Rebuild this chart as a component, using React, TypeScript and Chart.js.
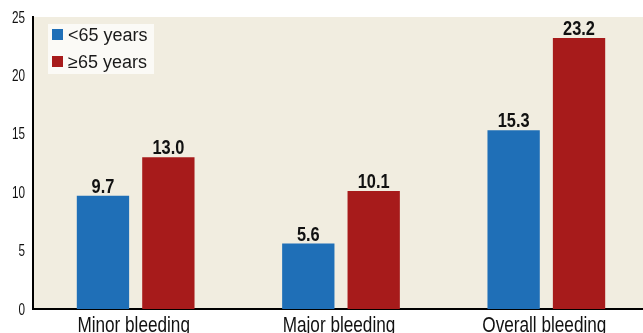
import React, { useEffect, useRef } from "react";
import { Chart, registerables } from "chart.js";

Chart.register(...registerables);

const categories = ["Minor bleeding", "Major bleeding", "Overall bleeding"];
const under65 = [9.7, 5.6, 15.3];
const over65 = [13.0, 10.1, 23.2];
const seriesNames = ["<65 years", "\u226565 years"];
const yTicks = [0, 5, 10, 15, 20, 25];

const BLUE = "#1f6fb7";
const RED = "#a71b1b";
const PANEL = "#f1ede0";
const SANS = '"Liberation Sans", Arial, sans-serif';

// Draws text squeezed horizontally to mimic a condensed face.
function narrowText(ctx: any, text: string, x: number, y: number, squeeze: number) {
  ctx.save();
  ctx.translate(x, y);
  ctx.scale(squeeze, 1);
  ctx.fillText(text, 0, 0);
  ctx.restore();
}

const panelPlugin = {
  id: "panel",
  beforeDraw(chart: any) {
    const { ctx, chartArea } = chart;
    ctx.save();
    ctx.fillStyle = PANEL;
    ctx.fillRect(chartArea.left, chartArea.top, chartArea.right - chartArea.left, chartArea.bottom - chartArea.top);
    ctx.restore();
  },
};

const axisLabels = {
  id: "axisLabels",
  afterDraw(chart: any) {
    const { ctx, scales } = chart;
    ctx.save();
    ctx.fillStyle = "#111";
    // category names under the bars
    ctx.font = `22px ${SANS}`;
    ctx.textAlign = "center";
    ctx.textBaseline = "top";
    categories.forEach((c, i) => {
      narrowText(ctx, c, scales.x.getPixelForValue(i) - 2, 315, 0.78);
    });
    // value ticks on the left
    ctx.font = `17px ${SANS}`;
    ctx.textAlign = "right";
    ctx.textBaseline = "middle";
    yTicks.forEach((v) => {
      narrowText(ctx, String(v), 25, scales.y.getPixelForValue(v) + 1, 0.69);
    });
    ctx.restore();
  },
};

const valueLabels = {
  id: "valueLabels",
  afterDatasetsDraw(chart: any) {
    const { ctx } = chart;
    ctx.save();
    ctx.font = `bold 21px ${SANS}`;
    ctx.fillStyle = "#111";
    ctx.textAlign = "center";
    ctx.textBaseline = "alphabetic";
    chart.data.datasets.forEach((ds: any, i: number) => {
      const meta = chart.getDatasetMeta(i);
      meta.data.forEach((bar: any, j: number) => {
        narrowText(ctx, Number(ds.data[j]).toFixed(1), bar.x, bar.y - 3, 0.78);
      });
    });
    ctx.restore();
  },
};

const boxLegend = {
  id: "boxLegend",
  afterDraw(chart: any) {
    const { ctx } = chart;
    ctx.save();
    ctx.fillStyle = "#fbfaf6";
    ctx.fillRect(48, 24, 106, 50);
    const colors = [BLUE, RED];
    ctx.font = `18px ${SANS}`;
    ctx.textBaseline = "middle";
    ctx.textAlign = "left";
    seriesNames.forEach((name, i) => {
      const y = 35 + i * 27;
      ctx.fillStyle = colors[i];
      ctx.fillRect(52, y - 6, 11, 11);
      ctx.fillStyle = "#1a1a1a";
      ctx.fillText(name, 68, y + 1);
    });
    ctx.restore();
  },
};

export default function App() {
  const ref = useRef<HTMLCanvasElement>(null);

  useEffect(() => {
    if (!ref.current) return;
    const chart = new Chart(ref.current, {
      type: "bar",
      data: {
        labels: categories,
        datasets: [
          { label: seriesNames[0], data: under65, backgroundColor: BLUE, categoryPercentage: 0.637, barPercentage: 0.8 },
          { label: seriesNames[1], data: over65, backgroundColor: RED, categoryPercentage: 0.637, barPercentage: 0.8 },
        ],
      },
      options: {
        animation: false,
        responsive: false,
        maintainAspectRatio: false,
        layout: { padding: { top: 17, right: 1, left: 0, bottom: 0 } },
        plugins: { legend: { display: false }, tooltip: { enabled: false } },
        scales: {
          x: {
            grid: { display: false, drawTicks: false },
            border: { display: true, color: "#000", width: 2 },
            ticks: { display: false },
            afterFit: (s: any) => {
              s.height = 24;
            },
          },
          y: {
            min: 0,
            max: 25,
            afterBuildTicks: (s: any) => {
              s.ticks = yTicks.map((v) => ({ value: v }));
            },
            grid: { display: false, drawTicks: true, tickLength: 4, tickColor: "#000", tickWidth: 2 },
            border: { display: true, color: "#000", width: 2 },
            ticks: { display: false },
            afterFit: (s: any) => {
              s.width = 33;
            },
          },
        },
      },
      plugins: [panelPlugin, valueLabels, axisLabels, boxLegend],
    });
    return () => chart.destroy();
  }, []);

  return (
    <div style={{ position: "fixed", left: 0, top: 0, width: 643, height: 333, overflow: "hidden", background: "#fff" }}>
      <canvas ref={ref} width={650} height={333} style={{ display: "block" }} />
    </div>
  );
}
